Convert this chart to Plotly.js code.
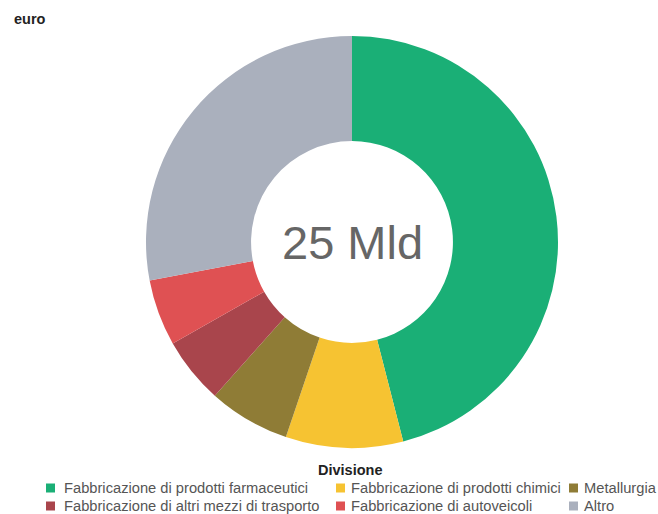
<!DOCTYPE html>
<html>
<head>
<meta charset="utf-8">
<script src="https://cdn.plot.ly/plotly-3.0.1.min.js"></script>
<style>html,body{margin:0;padding:0;background:#fff;}#chart{width:658px;height:514px;}</style>
</head>
<body>
<div id="chart"></div>
<script>
// Data (billions of euro)
const categories = [
  "Fabbricazione di prodotti farmaceutici",
  "Fabbricazione di prodotti chimici",
  "Metallurgia",
  "Fabbricazione di altri mezzi di trasporto",
  "Fabbricazione di autoveicoli",
  "Altro"
];
const values = [11.5, 2.3, 1.6, 1.3, 1.3, 7.0];
const colors = ["#1aaf76", "#f6c332", "#8f7c36", "#a9454c", "#df5153", "#aab0bd"];
const totalLabel = "25 Mld";
const unitLabel = "euro";
const legendTitle = "Divisione";

const W = 658, H = 514;
const px = x => x / W;
const py = y => 1 - y / H;

const cx = 352, cy = 242, R = 206;

// legend layout: order of items as in reference grid
const legendCols = [46, 336, 569];
const legendText = [62, 349, 582];
const legendRows = [488, 506];
const annotations = [];
const shapes = [];
categories.forEach((c, i) => {
  const col = i % 3, row = Math.floor(i / 3);
  const sx = legendCols[col], sy = legendRows[row];
  shapes.push({type: 'rect', xref: 'paper', yref: 'paper',
    x0: px(sx), x1: px(sx + 9), y0: py(sy + 4.5), y1: py(sy - 4.5),
    fillcolor: colors[i], line: {width: 0}});
  annotations.push({xref: 'paper', yref: 'paper', x: px(legendText[col]), y: py(sy),
    xanchor: 'left', yanchor: 'middle', showarrow: false, text: c,
    font: {family: 'Liberation Sans, Arial, sans-serif', size: 14.7, color: '#555555'}});
});
annotations.push({xref: 'paper', yref: 'paper', x: px(350), y: py(470),
  xanchor: 'center', yanchor: 'middle', showarrow: false, text: '<b>' + legendTitle + '</b>',
  font: {family: 'Liberation Sans, Arial, sans-serif', size: 14.5, color: '#222222'}});
annotations.push({xref: 'paper', yref: 'paper', x: px(12), y: py(19),
  xanchor: 'left', yanchor: 'middle', showarrow: false, text: '<b>' + unitLabel + '</b>',
  font: {family: 'Liberation Sans, Arial, sans-serif', size: 14.5, color: '#222222'}});
annotations.push({xref: 'paper', yref: 'paper', x: px(cx), y: py(cy),
  xanchor: 'center', yanchor: 'middle', showarrow: false, text: totalLabel,
  font: {family: 'Liberation Sans, Arial, sans-serif', size: 47, color: '#666666'}});

const trace = {
  type: 'pie',
  labels: categories,
  values: values,
  marker: {colors: colors, line: {width: 0}},
  hole: 0.49,
  sort: false,
  direction: 'clockwise',
  rotation: 0,
  textinfo: 'none',
  domain: {x: [px(cx - R), px(cx + R)], y: [py(cy + R), py(cy - R)]},
  showlegend: false
};

const layout = {
  width: W, height: H,
  margin: {l: 0, r: 0, t: 0, b: 0},
  paper_bgcolor: '#ffffff',
  showlegend: false,
  annotations: annotations,
  shapes: shapes
};

Plotly.newPlot('chart', [trace], layout, {displayModeBar: false, staticPlot: true});
</script>
</body>
</html>
